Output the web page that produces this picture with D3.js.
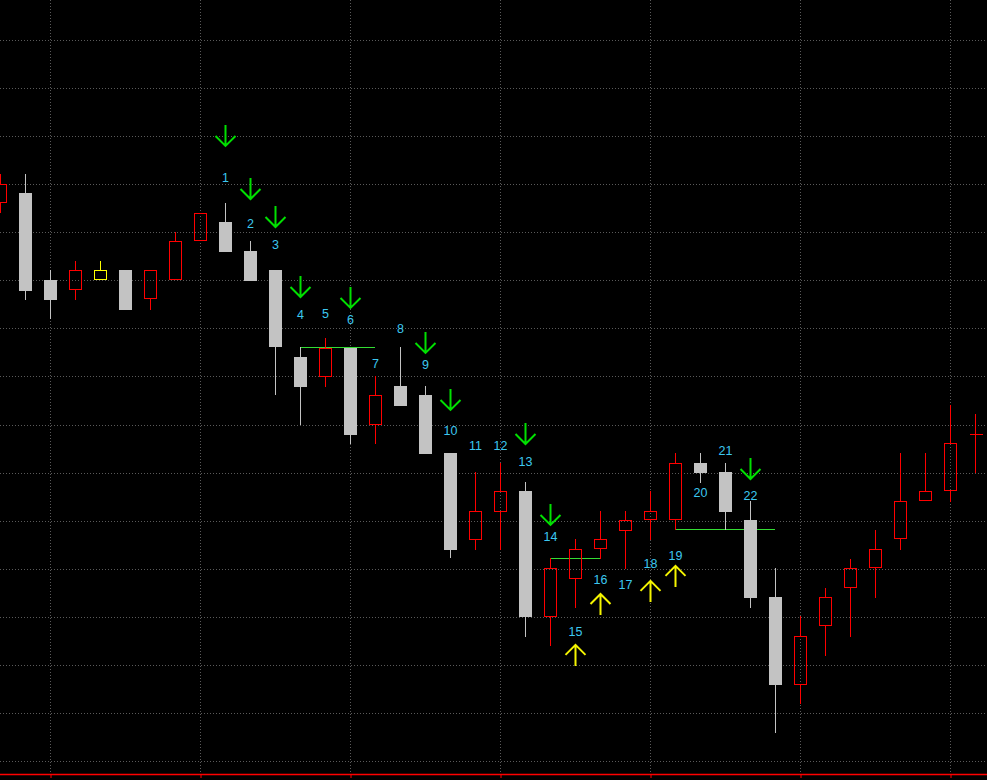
<!DOCTYPE html>
<html><head><meta charset="utf-8">
<script src="https://cdn.jsdelivr.net/npm/d3@7"></script>
<style>html,body{margin:0;padding:0;background:#000;overflow:hidden}svg{display:block}</style>
</head><body><svg id="c" width="987" height="780"></svg>
<script>
// ---- data ----
const barIndex = d3.range(40);
const opens  = [1330.5,1340.9,1250.4,1240.0,1250.4,1260.8,1230.6,1250.4,1291.0,1310.7,
                1280.6,1260.8,1170.3,1149.5,1179.7,1099.6,1140.2,1130.8,1070.5,980.0,
                1009.1,1031.0,899.9,939.4,970.6,989.4,1000.8,1000.8,1060.1,1050.7,
                1000.8,920.7,829.2,890.6,930.1,950.9,981.0,1020.6,1031.0,1090.2];
const highs  = [1360.6,1360.6,1260.8,1270.2,1270.2,1260.8,1260.8,1300.3,1320.1,1330.5,
                1291.0,1260.8,1180.7,1190.1,1179.7,1150.6,1180.7,1140.2,1070.5,1050.7,
                1060.1,1040.3,961.3,981.0,1010.2,1010.2,1031.0,1070.5,1070.5,1060.1,
                1020.6,950.9,901.0,930.1,960.2,990.4,1070.5,1070.5,1120.4,1111.0];
const lows   = [1320.1,1229.6,1209.8,1229.6,1250.4,1219.2,1219.2,1250.4,1291.0,1279.5,
                1249.4,1130.8,1099.6,1139.1,1079.8,1079.8,1119.4,1069.4,961.3,969.6,
                969.6,879.1,869.8,909.3,960.2,949.8,980.0,990.4,1039.3,990.4,
                909.3,779.3,809.4,859.4,879.1,919.7,969.6,1020.6,1019.5,1049.7];
const closes = [1350.2,1239.0,1229.6,1260.8,1260.8,1219.2,1260.8,1291.0,1320.1,1279.5,
                1249.4,1180.7,1139.1,1179.7,1089.2,1130.8,1119.4,1069.4,969.6,1010.2,
                1031.0,899.9,950.9,970.6,981.0,1000.8,1010.2,1060.1,1049.7,1009.1,
                919.7,829.2,880.2,920.7,950.9,970.6,1020.6,1031.0,1080.9,1090.2];
const insideBars = [4];

const downArrowBars = [9,10,11,12,14,17,18,21,22,30];
const downArrowTips = [1389.8,1334.6,1305.5,1232.7,1221.3,1174.5,1115.2,1079.8,995.6,1043.4];
const upArrowBars = [23,24,26,27];
const upArrowTips = [870.8,923.8,937.4,953.0];

const countLabels = ["1","2","3","4","5","6","7","8","9","10","11","12","13","14","15","16","17","18","19","20","21","22"];
const countBars   = [9,10,11,12,13,14,15,16,17,18,19,20,21,22,23,24,25,26,27,28,29,30];
const countLevels = [1356.5,1308.6,1286.8,1214.0,1215.0,1208.8,1163.0,1199.4,1162.0,1093.4,
                     1077.8,1077.8,1061.1,983.1,884.3,938.4,933.2,955.0,963.4,1028.9,1072.6,1025.8];

const levelStart = [12,22,27];
const levelEnd   = [15,24,31];
const levelPrice = [1180.7,961.3,991.4];

const gridPrices = [750,800,850,900,950,1000,1050,1100,1150,1200,1250,1300,1350,1400,1450,1500];
const timeTicks  = [2,8,14,20,26,32,38];

// ---- layout ----
const W = 987, H = 780, axisY = 774;
const svg = d3.select("#c");
svg.append("rect").attr("width",W).attr("height",H).attr("fill","#000");

const x = d3.scaleLinear().domain([0,39]).range([0.5,975.5]);
const y = d3.scaleLinear().domain([750,1500]).range([761.05,40]);
const snap = v => Math.round(v)+0.5;
const X = i => Math.round(x(i)-0.5)+0.5;

const GRID = "#5a5a5a";
const g = svg.append("g");
g.selectAll(".hg").data(gridPrices).join("line")
  .attr("x1",0).attr("x2",W)
  .attr("y1",d=>snap(y(d))).attr("y2",d=>snap(y(d)))
  .attr("stroke",GRID).attr("stroke-width",1).attr("stroke-dasharray","1,2");
g.selectAll(".vg").data(timeTicks).join("line")
  .attr("x1",d=>X(d)).attr("x2",d=>X(d)).attr("y1",0).attr("y2",axisY)
  .attr("stroke",GRID).attr("stroke-width",1).attr("stroke-dasharray","1,2");

// axis
svg.append("line").attr("x1",0).attr("x2",W).attr("y1",axisY+0.5).attr("y2",axisY+0.5)
  .attr("stroke","#ff0000").attr("stroke-width",1.6);
const ax = svg.append("g").attr("transform",`translate(0,${axisY+0.5})`)
  .call(d3.axisBottom(x).tickValues(timeTicks).tickSize(3.5).tickSizeOuter(0).tickFormat(""));
ax.select(".domain").remove();
ax.selectAll(".tick line").attr("stroke","#ff0000");

// level lines
svg.selectAll(".lvl").data(levelPrice).join("line")
  .attr("x1",(d,i)=>X(levelStart[i])-0.5).attr("x2",(d,i)=>X(levelEnd[i])-0.5)
  .attr("y1",d=>snap(y(d))).attr("y2",d=>snap(y(d)))
  .attr("stroke","#33dd33").attr("stroke-width",1);

// candles
const GRAY = "#c3c3c3", RED = "#ff0000", YEL = "#ffff00";
const cg = svg.append("g").attr("shape-rendering","crispEdges");
barIndex.forEach(i=>{
  const o=opens[i], h=highs[i], l=lows[i], c=closes[i];
  const cx = X(i);
  const top = Math.round(y(Math.max(o,c))), bot = Math.round(y(Math.min(o,c)));
  const hy = Math.round(y(h)), ly = Math.round(y(l));
  const isInside = insideBars.includes(i);
  const up = c >= o;
  const col = isInside ? YEL : (up ? RED : GRAY);
  if (!up && !isInside) {
    cg.append("line").attr("x1",cx).attr("x2",cx).attr("y1",hy).attr("y2",ly)
      .attr("stroke",col).attr("stroke-width",1);
    cg.append("rect").attr("x",cx-6.5).attr("width",13)
      .attr("y",top).attr("height",Math.max(1,bot-top)).attr("fill",col);
  } else {
    if (hy < top) cg.append("line").attr("x1",cx).attr("x2",cx).attr("y1",hy).attr("y2",top)
      .attr("stroke",col).attr("stroke-width",1);
    if (ly > bot) cg.append("line").attr("x1",cx).attr("x2",cx).attr("y1",bot).attr("y2",ly)
      .attr("stroke",col).attr("stroke-width",1);
    if (bot - top < 1) {
      cg.append("line").attr("x1",cx-6).attr("x2",cx+7).attr("y1",top+0.5).attr("y2",top+0.5)
        .attr("stroke",col).attr("stroke-width",1);
    } else {
      cg.append("rect").attr("x",cx-6).attr("width",12)
        .attr("y",top+0.5).attr("height",bot-top-1).attr("fill","none")
        .attr("stroke",col).attr("stroke-width",1);
    }
  }
});

// arrows
const ag = svg.append("g").attr("fill","none").attr("stroke-width",2).attr("stroke-linecap","butt");
downArrowBars.forEach((b,i)=>{
  const cx = X(b), ty = y(downArrowTips[i]);
  ag.append("path").attr("stroke","#00e000")
    .attr("d",`M${cx},${ty-21}L${cx},${ty}M${cx-10},${ty-10}L${cx},${ty}L${cx+10},${ty-10}`);
});
upArrowBars.forEach((b,i)=>{
  const cx = X(b), ty = y(upArrowTips[i]);
  ag.append("path").attr("stroke","#f5f500")
    .attr("d",`M${cx},${ty+21}L${cx},${ty}M${cx-10},${ty+10}L${cx},${ty}L${cx+10},${ty+10}`);
});

// count labels
svg.selectAll(".cnt").data(countLabels).join("text")
  .attr("x",(d,i)=>X(countBars[i]))
  .attr("y",(d,i)=>y(countLevels[i]))
  .attr("text-anchor","middle").attr("dominant-baseline","central")
  .attr("font-family","'Liberation Sans', Arial, sans-serif").attr("font-size",12.5)
  .attr("fill","#3cc8f0").text(d=>d);
</script></body></html>
